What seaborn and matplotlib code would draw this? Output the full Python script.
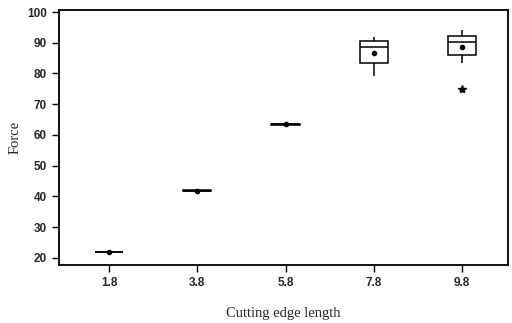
import pandas as pd
import matplotlib.pyplot as plt
import seaborn as sns

lengths = ['1.8', '3.8', '5.8', '7.8', '9.8']
force_18 = [21.7, 21.8, 21.9, 22.0, 22.1]
force_38 = [41.7, 41.8, 41.9, 42.0, 42.1]
force_58 = [63.0, 63.2, 63.4, 63.6, 63.8]
force_78 = [79.2, 83.3, 88.7, 90.7, 91.8]
force_98 = [75.0, 83.3, 86.0, 89.5, 90.3, 92.0, 92.3, 94.0, 94.1]

groups = [force_18, force_38, force_58, force_78, force_98]
df = pd.DataFrame({
    'length': [l for l, g in zip(lengths, groups) for _ in g],
    'force': [v for g in groups for v in g],
})

sns.set_style('white')
fig = plt.figure(figsize=(5.12, 3.23), dpi=100)
ax = fig.add_axes([0.115, 0.180, 0.877, 0.789])

sns.boxplot(data=df, x='length', y='force', order=lengths, ax=ax,
            width=0.32, color='white', linecolor='black', linewidth=1.1,
            showcaps=False, showmeans=True,
            meanprops=dict(marker='o', markerfacecolor='black',
                           markeredgecolor='black', markersize=3),
            flierprops=dict(marker='*', markerfacecolor='black',
                            markeredgecolor='black', markersize=6))

ax.set_ylim(17.7, 100.65)
ax.set_xlim(-0.57, 4.52)
ax.set_yticks(range(20, 101, 10))

for s in ax.spines.values():
    s.set_color('black')
    s.set_linewidth(1.3)

ax.tick_params(axis='both', which='both', direction='out', length=5,
               width=1.0, color='black', left=True, bottom=True)
for lab in ax.get_xticklabels() + ax.get_yticklabels():
    lab.set_fontfamily('Liberation Sans')
    lab.set_fontweight('bold')
    lab.set_fontsize(8.5)

ax.set_xlabel('Cutting edge length', fontfamily='Liberation Serif',
              fontsize=10.5, labelpad=13)
ax.set_ylabel('Force', fontfamily='Liberation Serif', fontsize=10.5,
              labelpad=4)

plt.savefig('out.png', dpi=100)
